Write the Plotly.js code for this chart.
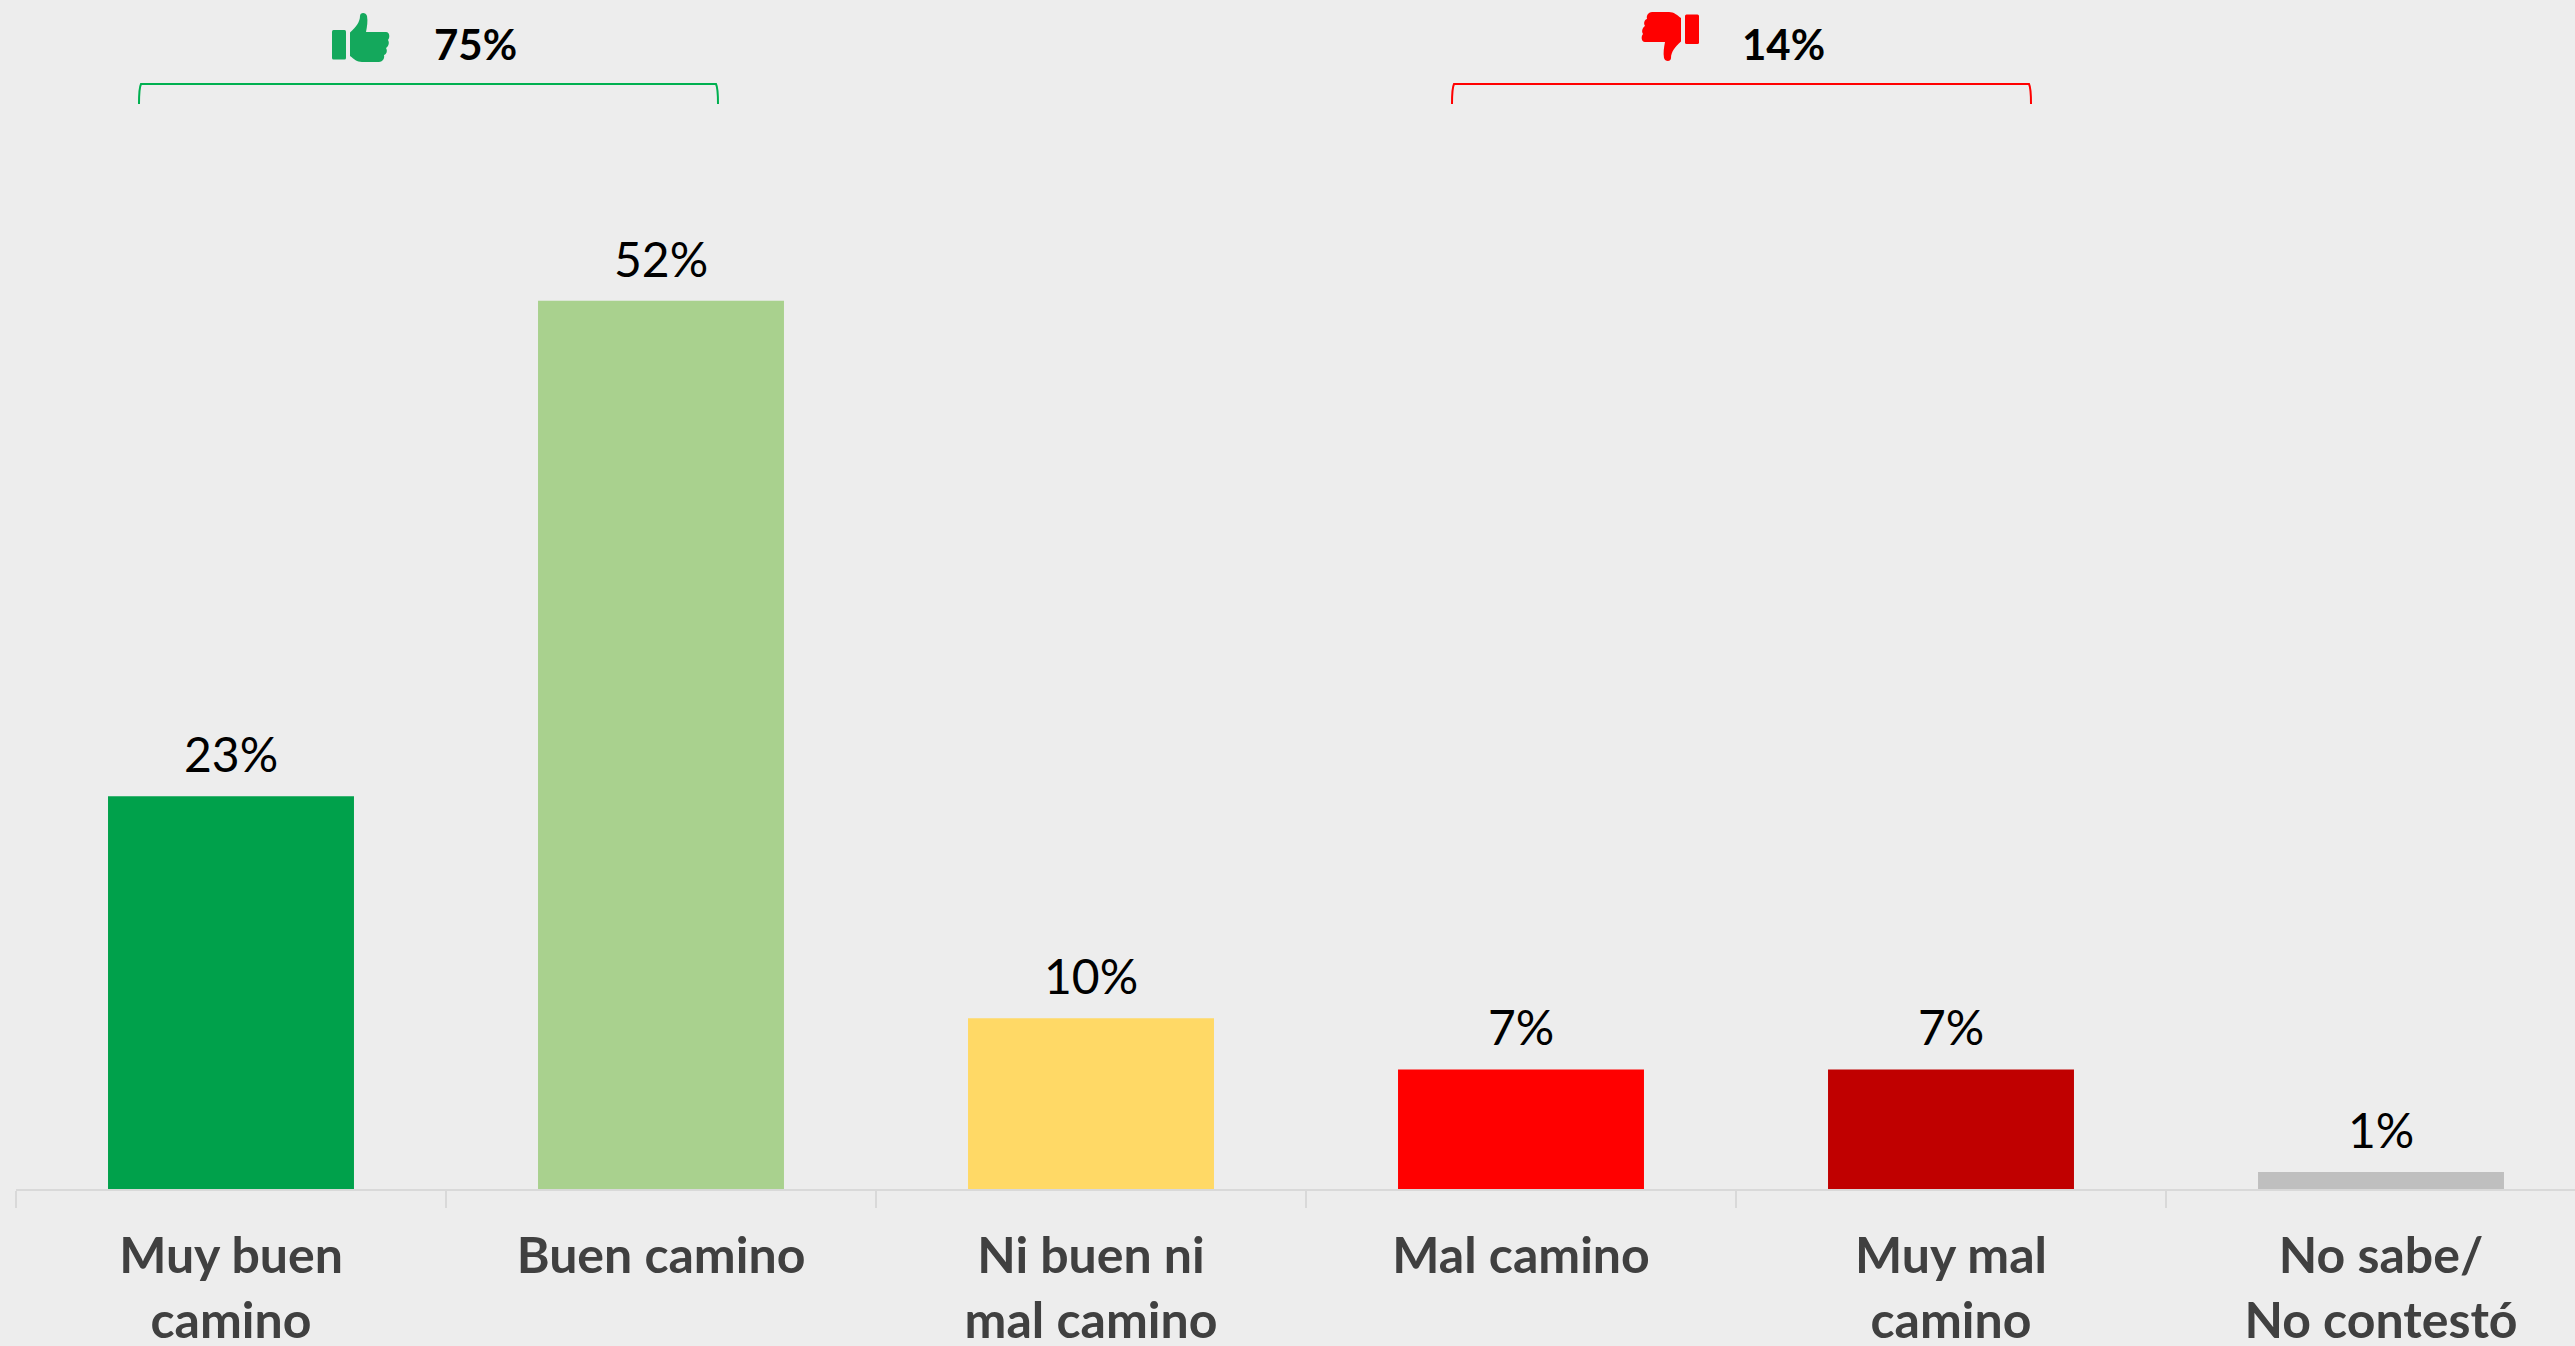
<!DOCTYPE html>
<html>
<head>
<meta charset="utf-8">
<script src="https://cdn.plot.ly/plotly-3.0.1.min.js"></script>
<style>html,body{margin:0;padding:0;background:#ededed;overflow:hidden}#chart{width:2575px;height:1346px}</style>
</head>
<body>
<div id="chart"></div>
<script>
const categories = ["Muy buen<br>camino", "Buen camino", "Ni buen ni<br>mal camino", "Mal camino", "Muy mal<br>camino", "No sabe/<br>No contestó"];
const values = [23, 52, 10, 7, 7, 1];
const barColors = ["#00A14B", "#A9D18E", "#FFD966", "#FF0000", "#C00000", "#BFBFBF"];
const groupTotals = ["75%", "14%"];

const W = 2575, H = 1346, L = 16, BASE = 1189, PW = W - L;
const px = x => (x - L) / PW;
const py = y => 1 - y / BASE;

function bracket(x0, x1, color) {
  const t = py(84), b = py(104), m = py(88);
  const path = `M ${px(x0)} ${b} Q ${px(x0)} ${m} ${px(x0 + 2)} ${t} L ${px(x1 - 2)} ${t} Q ${px(x1)} ${m} ${px(x1)} ${b}`;
  return {type: "path", xref: "paper", yref: "paper", path, line: {color, width: 2}, fillcolor: "rgba(0,0,0,0)"};
}

function icon(color, down, x) {
  const inner = `<rect x="0" y="18" width="14" height="29.5" rx="1.5"/><path d="M18 20.5C24 15 28 10 28 4C28 0 34 0 35 4C36 9 35 15 34 20L54 20C58 20 58 26 56 28C58 31 56 35 54 36C56 39 54 43 52 43C53 47 50 50 47 50L30 50C25 50 22 47 18 44Z"/>`;
  const tr = down ? ' transform="rotate(180 29 25)"' : '';
  const svg = `<svg xmlns="http://www.w3.org/2000/svg" width="58" height="50" viewBox="0 0 58 50"><g fill="${color}"${tr}>${inner}</g></svg>`;
  return {source: "data:image/svg+xml;utf8," + encodeURIComponent(svg), xref: "paper", yref: "paper",
    x: px(x), y: py(12), sizex: 58 / PW, sizey: 50 / BASE, xanchor: "left", yanchor: "top", sizing: "stretch", layer: "above"};
}

function total(text, x) {
  return {text, xref: "paper", yref: "paper", x: px(x), y: py(44), xanchor: "center", yanchor: "middle", showarrow: false,
    font: {family: "Lato, 'Open Sans', sans-serif", size: 42, color: "#000000", weight: 700}};
}

const barLabels = values.map((v, i) => ({
  text: v + "%", xref: "x", yref: "y", x: categories[i], y: v, xanchor: "center", yanchor: "bottom",
  yshift: 12, showarrow: false,
  font: {family: "Lato, 'Open Sans', sans-serif", size: 48, color: "#000000"}
}));

const trace = {
  type: "bar",
  x: categories,
  y: values,
  width: 0.572,
  marker: {color: barColors, line: {width: 0}},
  hoverinfo: "skip"
};

const layout = {
  width: W, height: H,
  margin: {l: L, r: 0, t: 0, b: H - BASE, pad: 0},
  paper_bgcolor: "#EDEDED", plot_bgcolor: "#EDEDED",
  showlegend: false,
  hovermode: false,
  xaxis: {
    type: "category",
    range: [-0.5, -0.5 + PW / 430],
    tickson: "boundaries",
    ticks: "outside", ticklen: 17, tickwidth: 2, tickcolor: "#D9D9D9",
    showline: true, linecolor: "#D9D9D9", linewidth: 2,
    showgrid: false, zeroline: false,
    ticklabelstandoff: 22,
    tickangle: 0,
    tickfont: {family: "Lato, 'Open Sans', sans-serif", size: 50, color: "#404040", weight: 700}
  },
  yaxis: {range: [0, BASE / 17.08], visible: false, showgrid: false, zeroline: false, fixedrange: true},
  shapes: [bracket(139, 718, "#00B050"), bracket(1452, 2031, "#FF0000")],
  images: [icon("#14A85C", false, 332), icon("#FF0000", true, 1641)],
  annotations: [total(groupTotals[0], 475), total(groupTotals[1], 1783)].concat(barLabels)
};

Plotly.newPlot("chart", [trace], layout, {displayModeBar: false, staticPlot: true});
</script>
</body>
</html>
